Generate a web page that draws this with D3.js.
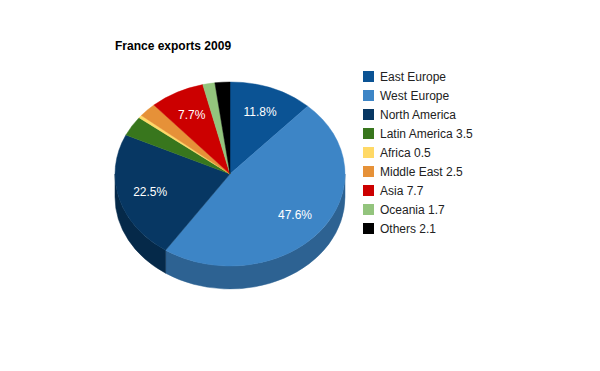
<!DOCTYPE html>
<html>
<head>
<meta charset="utf-8">
<script src="https://cdn.jsdelivr.net/npm/d3@7/dist/d3.min.js"></script>
<style>
  html, body { margin: 0; padding: 0; background: #fff; }
  svg { display: block; font-family: "Liberation Sans", Arial, sans-serif; }
</style>
</head>
<body>
<svg id="chart" width="600" height="371"></svg>
<script>
const title = "France exports 2009";
const categories = ["East Europe", "West Europe", "North America", "Latin America 3.5", "Africa 0.5", "Middle East 2.5", "Asia 7.7", "Oceania 1.7", "Others 2.1"];
const values = [11.8, 47.6, 22.5, 3.5, 0.5, 2.5, 7.7, 1.7, 2.1];
const colors = ["#0b5394", "#3d85c6", "#073763", "#38761d", "#ffd966", "#e69138", "#cc0000", "#93c47d", "#000000"];

(function () {
const svg = d3.select("#chart");
const W = 600, H = 371;
svg.append("rect").attr("width", W).attr("height", H).attr("fill", "#fff");

svg.append("text")
  .attr("x", 115).attr("y", 49.5)
  .attr("font-size", 12).attr("font-weight", "bold").attr("fill", "#000")
  .text(title);

const cx = 230, cy = 174, rx = 115, ry = 92, depth = 23;
const total = d3.sum(values);
const pie = d3.pie().sort(null).value(d => d);
const arcs = pie(values);

const px = a => cx + rx * Math.sin(a);
const py = a => cy - ry * Math.cos(a);

// side walls (front half only)
const sides = svg.append("g");
arcs.forEach((d, i) => {
  const s = Math.max(d.startAngle, Math.PI / 2);
  const e = Math.min(d.endAngle, 3 * Math.PI / 2);
  if (e <= s) return;
  const large = (e - s) > Math.PI ? 1 : 0;
  const path = `M${px(s)},${py(s)} A${rx},${ry} 0 ${large} 1 ${px(e)},${py(e)} L${px(e)},${py(e) + depth} A${rx},${ry} 0 ${large} 0 ${px(s)},${py(s) + depth} Z`;
  const sc = d3.color(colors[i]).darker(0.85).formatHex();
  sides.append("path")
    .attr("d", path)
    .attr("fill", sc)
    .attr("stroke", sc)
    .attr("stroke-width", 0.5);
});

// top face
const arcGen = d3.arc().innerRadius(0).outerRadius(rx);
const topFace = svg.append("g").attr("transform", `translate(${cx},${cy}) scale(1,${ry / rx})`);
topFace.selectAll("path").data(arcs).join("path")
  .attr("d", arcGen)
  .attr("fill", (d, i) => colors[i])
  .attr("stroke", (d, i) => colors[i])
  .attr("stroke-width", 0.5);

// slice labels
const fmt = d3.format(".1f");
arcs.forEach((d, i) => {
  const pct = d.value / total * 100;
  if (pct < 5) return;
  const m = (d.startAngle + d.endAngle) / 2;
  const f = 0.72;
  svg.append("text")
    .attr("x", cx + f * rx * Math.sin(m))
    .attr("y", cy - f * ry * Math.cos(m))
    .attr("text-anchor", "middle")
    .attr("dominant-baseline", "central")
    .attr("font-size", 12).attr("fill", "#fff")
    .text(fmt(pct) + "%");
});

// legend
const leg = svg.append("g");
categories.forEach((c, i) => {
  const y = 71 + i * 19;
  leg.append("rect").attr("x", 363).attr("y", y).attr("width", 11).attr("height", 11).attr("fill", colors[i]);
  leg.append("text").attr("x", 380).attr("y", y + 10.3)
    .attr("font-size", 12).attr("fill", "#222")
    .text(c);
});
})();
</script>
</body>
</html>
